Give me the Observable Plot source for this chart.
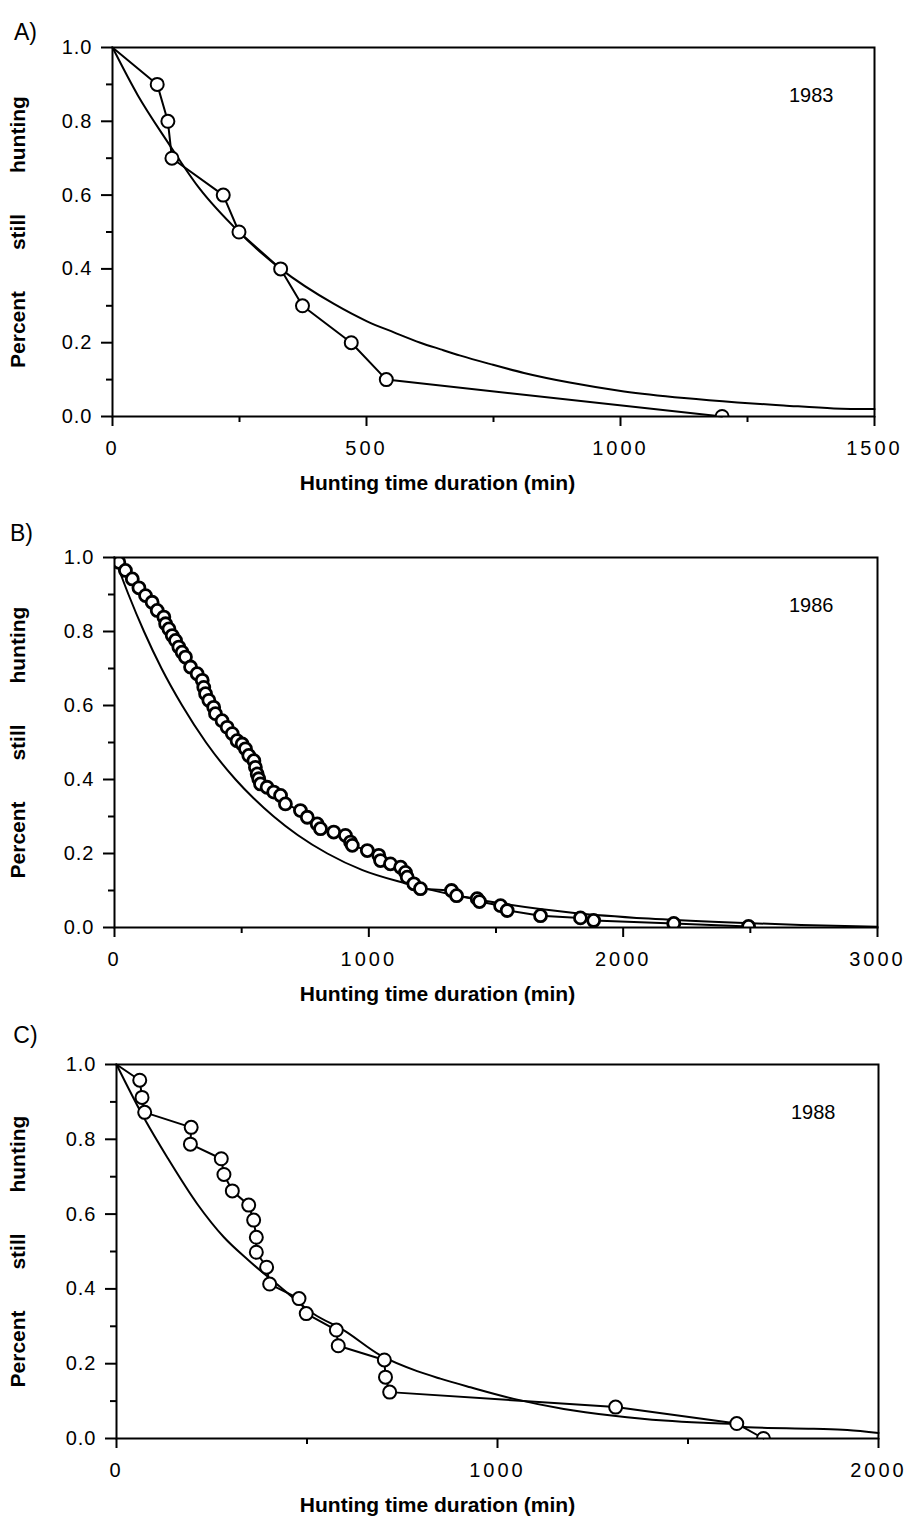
<!DOCTYPE html>
<html><head><meta charset="utf-8">
<script src="https://cdn.jsdelivr.net/npm/d3@7"></script>
<script src="https://cdn.jsdelivr.net/npm/@observablehq/plot@0.6"></script>
<style>
html,body{margin:0;padding:0;background:#fff;}
#root{position:relative;width:908px;height:1528px;font-family:"Liberation Sans",Arial,Helvetica,sans-serif;}
#root svg{position:absolute;left:0;overflow:visible;}
[aria-label="x-axis tick label"] text{letter-spacing:3px;}
[aria-label="y-axis tick label"] text{letter-spacing:1px;}
text[aria-label="ylab"], [aria-label="ylab"] text{white-space:pre;letter-spacing:0.5px;}
text[aria-label="xlab"], [aria-label="xlab"] text{white-space:pre;letter-spacing:0.8px;}
</style></head><body><div id="root"></div><script>
// ---------- Panel A (1983) ----------
const aObsX = [0, 88, 109, 117, 218, 249, 331, 374, 470, 539, 1200];
const aObsY = [1.0, 0.9, 0.8, 0.7, 0.6, 0.5, 0.4, 0.3, 0.2, 0.1, 0.0];
const aFitX = [0, 50, 108, 170, 249, 331, 436, 501, 554, 606, 646, 685, 744, 810, 900, 1007, 1125, 1230, 1321, 1420, 1500];
const aFitY = [1.0, 0.87, 0.745, 0.62, 0.5, 0.4, 0.305, 0.258, 0.228, 0.2, 0.182, 0.165, 0.142, 0.118, 0.092, 0.068, 0.05, 0.038, 0.03, 0.022, 0.02];
const aXTicks = [0, 500, 1000, 1500];
const aXMinor = [250, 750, 1250];

// ---------- Panel B (1986) ----------
const bObsX = [0,17,43,70,96,122,148,168,194,201,214,227,240,253,266,279,299,325,345,351,358,371,390,397,423,443,463,482,502,515,528,548,554,561,567,574,600,626,653,672,731,758,797,810,862,908,928,935,994,1039,1046,1085,1125,1144,1151,1177,1203,1325,1345,1426,1435,1518,1544,1675,1832,1884,2199,2493];
const bObsY = [1.0,0.987,0.965,0.942,0.918,0.897,0.879,0.857,0.839,0.821,0.807,0.789,0.776,0.758,0.744,0.731,0.704,0.686,0.668,0.649,0.632,0.614,0.595,0.578,0.559,0.541,0.524,0.505,0.496,0.483,0.465,0.451,0.433,0.415,0.402,0.388,0.379,0.366,0.357,0.334,0.316,0.298,0.28,0.267,0.258,0.249,0.231,0.222,0.208,0.195,0.181,0.172,0.163,0.149,0.136,0.118,0.105,0.1,0.086,0.078,0.07,0.059,0.046,0.032,0.026,0.019,0.011,0.003];
const bFitX = [0, 55, 116, 185, 266, 360, 476, 546, 626, 720, 837, 975, 1140, 1320, 1530, 1800, 2100, 2400, 2700, 3000];
const bFitY = [1.0, 0.9, 0.8, 0.7, 0.6, 0.5, 0.4, 0.35, 0.3, 0.25, 0.2, 0.155, 0.12, 0.09, 0.064, 0.04, 0.024, 0.014, 0.007, 0.002];
const bXTicks = [0, 1000, 2000, 3000];
const bXMinor = [500, 1500, 2500];

// ---------- Panel C (1988) ----------
const cObsX = [0, 61, 67, 74, 196, 194, 275, 282, 304, 347, 360, 367, 367, 394, 402, 479, 498, 577, 582, 703, 706, 717, 1310, 1628, 1698];
const cObsY = [1.0, 0.958, 0.912, 0.872, 0.832, 0.787, 0.748, 0.706, 0.662, 0.624, 0.584, 0.538, 0.498, 0.458, 0.413, 0.374, 0.334, 0.29, 0.248, 0.21, 0.164, 0.124, 0.084, 0.04, 0.0];
const cFitX = [0, 76, 133, 212, 282, 347, 430, 518, 597, 693, 789, 850, 929, 1043, 1174, 1305, 1437, 1540, 1620, 1656, 1830, 1918, 2000];
const cFitY = [1.0, 0.85, 0.752, 0.627, 0.538, 0.476, 0.405, 0.333, 0.289, 0.222, 0.18, 0.16, 0.137, 0.106, 0.079, 0.061, 0.048, 0.042, 0.039, 0.03, 0.026, 0.023, 0.015];
const cXTicks = [0, 1000, 2000];
const cXMinor = [500, 1500];

// ---------- shared ----------
const yTicks = [0, 0.2, 0.4, 0.6, 0.8, 1.0];
const yMinor = [0.1, 0.3, 0.5, 0.7, 0.9];
const yLabel = "Percent still hunting";
const xLabel = "Hunting time duration (min)";

const FONT = '"Liberation Sans", Arial, Helvetica, sans-serif';
const zip = (xs, ys) => xs.slice(0, Math.min(xs.length, ys.length)).map((x, i) => ({x, y: ys[i]}));
const spaced = (s, n) => s.split(" ").join(" ".repeat(n));

const panels = [
  {tag: "A)", year: "1983", obsX: aObsX, obsY: aObsY, fitX: aFitX, fitY: aFitY, xTicks: aXTicks, xMinor: aXMinor,
   top: 0, height: 510, mL: 112, mR: 34, mT: 47, mB: 94, tagX: 25, tagY: 23, yearDx: -41, dotR: 6.5, dotStroke: 2},
  {tag: "B)", year: "1986", obsX: bObsX, obsY: bObsY, fitX: bFitX, fitY: bFitY, xTicks: bXTicks, xMinor: bXMinor,
   top: 510, height: 510, mL: 114, mR: 31, mT: 47, mB: 93, tagX: 21, tagY: 524, yearDx: -44, dotR: 6, dotStroke: 2.8},
  {tag: "C)", year: "1988", obsX: cObsX, obsY: cObsY, fitX: cFitX, fitY: cFitY, xTicks: cXTicks, xMinor: cXMinor,
   top: 1017, height: 511, mL: 116, mR: 30, mT: 47, mB: 90, tagX: 25, tagY: 1026, yearDx: -43, dotR: 6.5, dotStroke: 2}
];

const root = document.getElementById("root");
for (const p of panels) {
  const obs = zip(p.obsX, p.obsY);
  const fit = zip(p.fitX, p.fitY);
  const plotCenter = (p.mL + (908 - p.mR)) / 2;
  const chart = Plot.plot({
    width: 908,
    height: p.height,
    marginLeft: p.mL, marginRight: p.mR, marginTop: p.mT, marginBottom: p.mB,
    style: {fontFamily: FONT, fontSize: "20px", background: "white", color: "black"},
    x: {domain: [p.xTicks[0], p.xTicks[p.xTicks.length - 1]]},
    y: {domain: [0, 1]},
    marks: [
      Plot.line(fit, {x: "x", y: "y", stroke: "black", strokeWidth: 2, curve: "monotone-x"}),
      Plot.line(obs, {x: "x", y: "y", stroke: "black", strokeWidth: 2}),
      Plot.dot(obs.slice(1), {x: "x", y: "y", r: p.dotR, fill: "white", stroke: "black", strokeWidth: p.dotStroke, clip: true}),
      Plot.frame({stroke: "black", strokeWidth: 2}),
      Plot.axisY({ticks: yTicks, tickSize: 11, tickPadding: 9, tickFormat: d3.format(".1f"), fontSize: 20, strokeWidth: 2, label: null}),
      Plot.axisY({ticks: yMinor, tickSize: 6, tickFormat: () => "", strokeWidth: 2, label: null}),
      Plot.axisX({ticks: p.xTicks, tickSize: 10, tickPadding: 14, tickFormat: d => String(d), fontSize: 20, strokeWidth: 2, label: null}),
      Plot.axisX({ticks: p.xMinor, tickSize: 6, tickFormat: () => "", strokeWidth: 2, label: null}),
      Plot.text([yLabel], {text: d => spaced(d, 7), frameAnchor: "left", textAnchor: "middle", dx: 18 - p.mL, rotate: -90, fontSize: 21, fontWeight: "bold", fontFamily: FONT, ariaLabel: "ylab"}),
      Plot.text([xLabel], {text: d => d, frameAnchor: "bottom", textAnchor: "middle", dx: 437 - plotCenter, dy: 73, fontSize: 21, fontWeight: "bold", fontFamily: FONT, ariaLabel: "xlab"}),
      Plot.text([p.year], {text: d => d, frameAnchor: "top-right", textAnchor: "end", dx: p.yearDx, dy: 40, fontSize: 20, fontFamily: FONT}),
      Plot.text([p.tag], {text: d => d, frameAnchor: "top-left", textAnchor: "middle", dx: p.tagX - p.mL, dy: (p.tagY - p.top) - p.mT, fontSize: 23, fontFamily: FONT})
    ]
  });
  chart.style.top = p.top + "px";
  root.appendChild(chart);
}
</script></body></html>
